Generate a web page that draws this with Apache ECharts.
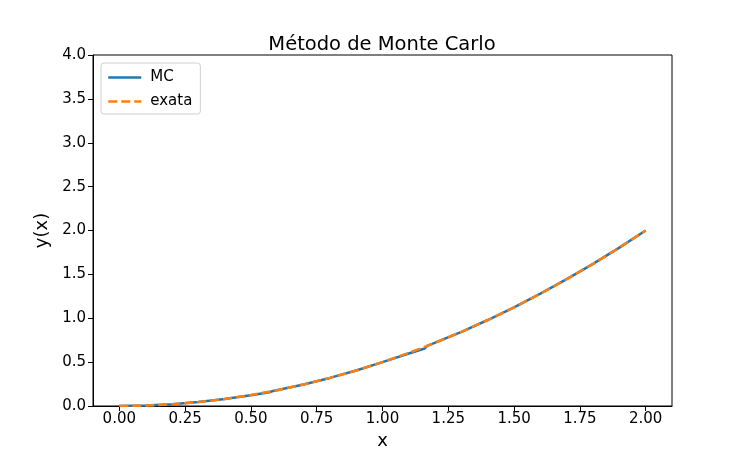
<!DOCTYPE html>
<html>
<head>
<meta charset="utf-8">
<script src="https://cdn.jsdelivr.net/npm/echarts@6/dist/echarts.min.js"></script>
<style>html,body{margin:0;padding:0;background:#fff}#c{width:747px;height:464px}</style>
</head>
<body>
<div id="c"></div>
<script>
// Data
const titleText = "Método de Monte Carlo";
const xTicks = [0, 0.25, 0.5, 0.75, 1.0, 1.25, 1.5, 1.75, 2.0];
const yTicks = [0, 0.5, 1.0, 1.5, 2.0, 2.5, 3.0, 3.5, 4.0];
const mcX = [0, 0.1, 0.2, 0.3, 0.4, 0.5, 0.57, 0.58, 0.7, 0.8, 0.9, 1.0, 1.1, 1.16, 1.17, 1.3, 1.4, 1.5, 1.6, 1.7, 1.8, 1.9, 2.0];
const mcY = [0, 0.005, 0.02, 0.045, 0.08, 0.123, 0.156, 0.168, 0.245, 0.32, 0.405, 0.5, 0.598, 0.655, 0.685, 0.845, 0.98, 1.125, 1.28, 1.445, 1.62, 1.805, 2.0];
const exX = [0, 0.1, 0.2, 0.3, 0.4, 0.5, 0.6, 0.7, 0.8, 0.9, 1.0, 1.1, 1.2, 1.3, 1.4, 1.5, 1.6, 1.7, 1.8, 1.9, 2.0];
const exY = [0, 0.005, 0.02, 0.045, 0.08, 0.125, 0.18, 0.245, 0.32, 0.405, 0.5, 0.605, 0.72, 0.845, 0.98, 1.125, 1.28, 1.445, 1.62, 1.805, 2.0];

const font = "DejaVu Sans";
const chart = echarts.init(document.getElementById('c'), null, {renderer: 'canvas'});
chart.setOption({
  animation: false,
  backgroundColor: '#fff',
  textStyle: {fontFamily: font},
  title: {
    text: titleText,
    left: 377, top: 30, textAlign: 'center',
    textStyle: {fontFamily: font, fontSize: 19.5, fontWeight: 'normal', color: '#000'}
  },
  grid: {left: 93, top: 55, width: 579, height: 351, show: true, borderColor: '#000', borderWidth: 1, containLabel: false},
  legend: {
    orient: 'vertical', left: 101, top: 63,
    data: ['MC', 'exata'],
    itemWidth: 33, itemHeight: 12, itemGap: 9,
    padding: [7, 8, 5, 6],
    borderColor: '#d0d0d0', borderWidth: 1, borderRadius: 3,
    itemStyle: {opacity: 0, color: 'transparent', borderWidth: 0},
    lineStyle: {width: 2.5},
    textStyle: {fontFamily: font, fontSize: 15, color: '#000', padding: [0, 0, 0, 4]}
  },
  xAxis: {
    type: 'value', min: -0.1, max: 2.1,
    name: 'x', nameLocation: 'middle', nameGap: 24,
    nameTextStyle: {fontFamily: font, fontSize: 18, color: '#000'},
    axisLine: {show: true, onZero: false, lineStyle: {color: '#000'}},
    axisTick: {show: true, length: 5, inside: false, customValues: xTicks, lineStyle: {color: '#000'}},
    axisLabel: {customValues: xTicks, margin: 6, fontFamily: font, fontSize: 15, color: '#000', formatter: v => v.toFixed(2)},
    splitLine: {show: false}
  },
  yAxis: {
    type: 'value', min: 0, max: 4, interval: 0.5,
    name: 'y(x)', nameLocation: 'middle', nameGap: 37,
    nameTextStyle: {fontFamily: font, fontSize: 18, color: '#000'},
    axisLine: {show: true, onZero: false, lineStyle: {color: '#000'}},
    axisTick: {show: true, length: 5, inside: false, lineStyle: {color: '#000'}},
    axisLabel: {margin: 7, fontFamily: font, fontSize: 15, color: '#000', formatter: v => v.toFixed(1)},
    splitLine: {show: false}
  },
  series: [
    {
      name: 'MC', type: 'line', showSymbol: false, symbol: 'none',
      data: mcX.map((x, i) => [x, mcY[i]]),
      lineStyle: {color: '#1f77b4', width: 2.5},
      itemStyle: {color: '#1f77b4'}
    },
    {
      name: 'exata', type: 'line', showSymbol: false, symbol: 'none',
      data: exX.map((x, i) => [x, exY[i]]),
      lineStyle: {color: '#ff7f0e', width: 2.5, type: [9, 4]},
      itemStyle: {color: '#ff7f0e'}
    }
  ]
});
</script>
</body>
</html>
